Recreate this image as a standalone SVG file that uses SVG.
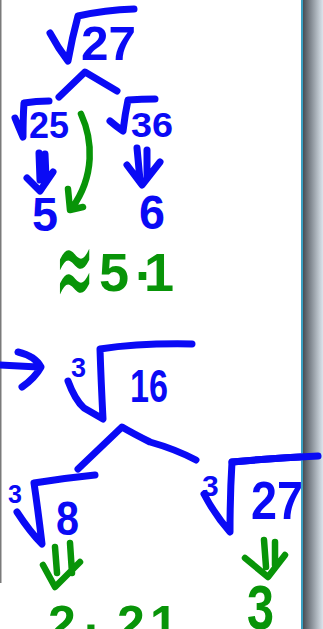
<svg xmlns="http://www.w3.org/2000/svg" width="323" height="629" viewBox="0 0 323 629">
<defs>
<linearGradient id="edge" x1="0" y1="0" x2="1" y2="0">
<stop offset="0" stop-color="#474d55"/>
<stop offset="0.35" stop-color="#7d848c"/>
<stop offset="1" stop-color="#dbe4ec"/>
</linearGradient>
<style>
.b{fill:none;stroke:#0a0af5;stroke-width:7;stroke-linecap:round;stroke-linejoin:round}
.g{fill:none;stroke:#089408;stroke-width:6.5;stroke-linecap:round;stroke-linejoin:round}
.tb{fill:#0a0af5;font-family:"Liberation Sans",Arial,sans-serif;font-weight:bold}
.tg{fill:#089408;font-family:"Liberation Sans",Arial,sans-serif;font-weight:bold}
</style>
</defs>
<rect width="323" height="629" fill="#ffffff"/>
<rect x="0" y="0" width="1.5" height="583" fill="#7a7a7a"/>

<g id="connectors">
<path class="b" d="M59,97 L85,72 L117,91"/>
<path class="b" d="M39,153 L40,180 M45,154 L46,178 M27,178 L40,191 L53,172"/>
<path class="b" d="M137,148 L140,180 M147,150 L147,177 M127,165 L142,185 L160,162"/>
<path class="g" d="M81,114 C93,140 95,176 72,208 M68,189 L70,210 L83,207"/>
<path class="b" d="M0,365 L38,367 M18,352 Q35,356 41,367 Q35,378 22,387"/>
<path class="b" d="M78,469 L122,427 Q132,433 150,442 Q175,449 196,460"/>
<path class="g" d="M55,547 L57,573 M70,543 L72,573 M43,565 L55,587 L80,562"/>
<path class="g" d="M264,540 L266,567 M275,542 L275,565 M245,558 L268,577 L285,555"/>
</g>

<g id="root27">
<path class="b" d="M50,33 Q58,48 68,61 Q72,38 78,16 Q105,10 134,9"/>
<text class="tb" x="81" y="60" font-size="48" textLength="55" lengthAdjust="spacingAndGlyphs">27</text>
</g>
<g id="root25">
<path class="b" d="M15,118 Q19,128 23,137 Q23,118 24,103 Q36,101 49,101"/>
<text class="tb" x="29" y="138" font-size="36" textLength="40" lengthAdjust="spacingAndGlyphs">25</text>
</g>
<g id="root36">
<path class="b" d="M110,121 Q117,127 123,131 Q125,114 128,100 Q142,99 155,99"/>
<text class="tb" x="131" y="137" font-size="35" textLength="42" lengthAdjust="spacingAndGlyphs">36</text>
</g>
<g id="five">
<text class="tb" x="32" y="231" font-size="49" textLength="26" lengthAdjust="spacingAndGlyphs">5</text>
</g>
<g id="six">
<text class="tb" x="139" y="229" font-size="49" textLength="26" lengthAdjust="spacingAndGlyphs">6</text>
</g>
<g id="approx51">
<text transform="translate(55,311) scale(0.39,1.05)" style="fill:#089408;font-family:'DejaVu Sans',sans-serif;font-size:120px;font-weight:normal">≈</text>
<text class="tg" font-size="54"><tspan x="99" y="291">5</tspan><tspan x="135" y="280">.</tspan><tspan x="144" y="291">1</tspan></text>
</g>

<g id="cuberoot16">
<text class="tb" x="71" y="377" font-size="27">3</text>
<path class="b" d="M68,381 Q75,400 84,408 L103,419 Q101,380 100,349 Q140,343 192,344"/>
<text class="tb" x="130" y="402" font-size="46" textLength="38" lengthAdjust="spacingAndGlyphs">16</text>
</g>
<g id="cuberoot8">
<text class="tb" x="8" y="503" font-size="25">3</text>
<path class="b" d="M17,512 Q30,532 42,544 Q38,510 34,483 Q65,478 95,475"/>
<text class="tb" x="56" y="535" font-size="49" textLength="23" lengthAdjust="spacingAndGlyphs">8</text>
</g>
<g id="cuberoot27">
<text class="tb" x="202" y="496" font-size="30">3</text>
<path class="b" d="M204,494 Q215,515 230,532 Q230,495 232,462 Q275,458 318,456"/>
<text class="tb" x="251" y="519" font-size="54" textLength="52" lengthAdjust="spacingAndGlyphs">27</text>
</g>
<g id="approx2">
<text class="tg" font-size="50"><tspan x="48" y="641">2</tspan><tspan x="84" y="632">.</tspan><tspan x="117" y="641">2</tspan><tspan x="150" y="641">1</tspan></text>
</g>
<g id="three">
<text class="tg" x="247" y="629" font-size="63" textLength="27" lengthAdjust="spacingAndGlyphs">3</text>
</g>

<rect x="301" y="0" width="2" height="629" fill="#3aa0c2"/>
<rect x="303" y="0" width="20" height="629" fill="url(#edge)"/>
<path class="b" d="M232,462 Q275,458 318,456"/>
</svg>
